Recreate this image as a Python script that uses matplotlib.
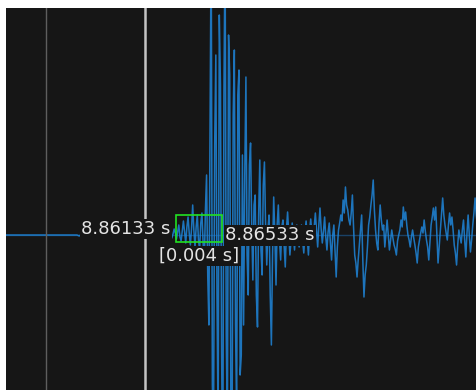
import matplotlib.pyplot as plt
import numpy as np
from matplotlib.patches import Rectangle

# quiet pre-event part: 5000 Hz samples starting at t0 (seconds)
t0 = 8.8466
dt_quiet = 0.0002
quiet = [0, 0, 0, 0, 0, 0, 0, 0, 0, 0,
         0, 0, 0, 0, 0, 0, 0, 0, 0, 0,
         0, 0, 0, 0, 0, 0, 0, 0, 0, 0,
         0, 0, -1, 1, 0, 0, 0, 0, 0, 0,
         0, 0, 0, 0, 0, 0, 0, 0, 0, 0,
         0, 0, 0, 0, 0, 0, 0, 0, 0, 0,
         0, 0, 0, 0, 0, 0, 0, 0, 1, -1,
         0]

# event part: 10000 Hz samples starting at t1
t1 = 8.8608
dt_event = 0.0001
event = [2, 0, -3, 1, 6, 2, -4, 3, 10, -2,
         -6, 4, 14, 3, -8, 8, 18, 2, -10, 6,
         30, 5, -12, 8, 20, -5, -15, 12, 22, -8,
         -30, 25, 60, -40, -90, 120, 300, -150, -200, 90,
         180, -60, -200, 220, 150, -120, -250, 140, 300, -100,
         -200, 200, 160, -180, -220, 120, 185, -90, -180, 140,
         165, -140, -120, 80, -90, 60, 158, -20, -60, 70,
         92, 10, -45, 30, 40, -60, -92, 20, 75, -15,
         -40, 50, 73, 10, -30, 5, 20, -60, -110, -20,
         38, 0, -50, 10, 30, -5, -25, 8, 15, -10,
         -32, 5, 23, 2, -20, -5, 12, 0, -15, 5,
         10, -4, -12, 3, 10, -6, -18, 2, 14, -3,
         -20, 4, 16, 0, -10, 8, 22, 5, -12, 10,
         27, 6, -8, 4, 18, -2, -15, 3, 12, -8,
         -25, 0, 10, -15, -42, -12, 5, 12, 20, 14,
         35, 22, 48, 30, 25, 15, 10, 22, 40, 8,
         -20, -28, -42, -25, -10, 5, 20, -25, -62, -40,
         -30, -12, 10, 18, 30, 40, 55, 25, 5, -8,
         -15, 12, 30, 15, 5, 10, -12, 2, 15, 0,
         -15, -5, 5, -3, -10, -14, -20, -6, 0, 5,
         15, 8, 28, 15, 23, 10, 0, -5, -12, -2,
         5, -3, -10, -18, -28, -12, -5, 2, 8, 2,
         15, 4, -5, -12, -25, -8, 10, 18, 27, 15,
         28, 0, -28, -12, 5, 20, 37, 20, 10, 2,
         -5, 10, 22, 10, 18, 5, -10, -18, -30, -10,
         5, -2, -8, 5, 15, -5, -22, 2, 20, 0,
         -17, -5, 10, 22, 37, 20, 10, 5]

# picks
pick_lines = [8.8501, 8.8587]
sel_start = 8.86133
sel_end = 8.86533

t_q = t0 + dt_quiet * np.arange(len(quiet))
t_e = t1 + dt_event * np.arange(len(event))
t = np.concatenate([t_q, t_e])
amp = np.array(quiet + event, dtype=float)

fig = plt.figure(figsize=(4.76, 3.90), dpi=100)
fig.patch.set_facecolor('white')
ax = fig.add_axes([6 / 476, 0, 470 / 476, 382 / 390])
ax.set_facecolor('#161616')

ax.axhline(0, color='#1f78c8', lw=1, alpha=0.45, zorder=1)
ax.plot(t, amp, color='#1f86da', lw=1.1, alpha=0.85, zorder=2)

ax.axvline(pick_lines[0], color='#5e5e5e', lw=1.0, zorder=3)
ax.axvline(pick_lines[1], color='#c4c4c4', lw=1.8, zorder=3)

ax.add_patch(Rectangle((sel_start, -7), sel_end - sel_start, 27,
                       fill=False, edgecolor='#22e022', lw=1.2, zorder=4))

box = dict(facecolor='#161616', edgecolor='none', pad=1.0)
txt = dict(color='#e4e4e4', fontsize=13, family='DejaVu Sans', zorder=5, bbox=box)
ax.text(sel_start - 0.00045, 6, f'{sel_start:.5f} s', ha='right', va='center', **txt)
ax.text(sel_end + 0.0003, -0.5, f'{sel_end:.5f} s', ha='left', va='center', **txt)
ax.text(sel_start - 0.0014, -21, f'[{sel_end - sel_start:.3f} s]', ha='left', va='center', **txt)

ax.set_xlim(8.84667, 8.88728)
ax.set_ylim(-155, 227)
ax.set_xticks([])
ax.set_yticks([])
for s in ax.spines.values():
    s.set_visible(False)

fig.savefig('out.png', dpi=100, facecolor='white')
